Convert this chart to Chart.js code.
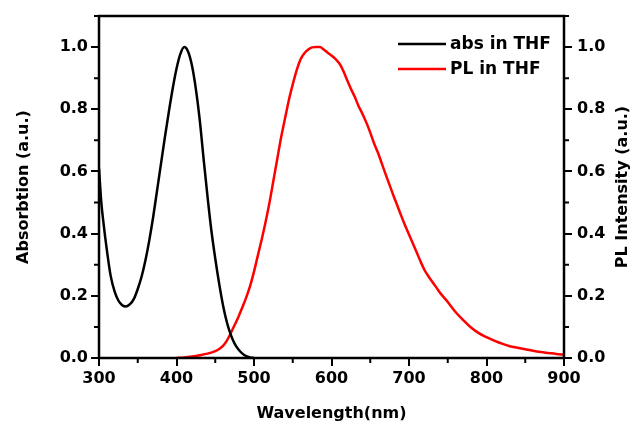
<!DOCTYPE html>
<html>
<head>
<meta charset="utf-8">
<script src="https://cdn.jsdelivr.net/npm/chart.js@4"></script>
<style>
  html, body { margin: 0; padding: 0; background: #fff; }
  #wrap { width: 636px; height: 426px; }
</style>
</head>
<body>
<div id="wrap"><canvas id="c" width="636" height="426"></canvas></div>
<script>
// absorption spectrum (black)
const absWavelength = [300, 303, 306, 310, 315, 320, 325, 330, 335, 340, 345, 350, 355, 360, 365, 370, 375, 380, 385, 390, 395, 400, 405, 410, 415, 420, 425, 430, 435, 440, 445, 450, 455, 460, 465, 470, 475, 480, 485, 490, 495, 500];
const absValues     = [0.61, 0.50, 0.43, 0.35, 0.265, 0.215, 0.185, 0.17, 0.166, 0.173, 0.19, 0.222, 0.262, 0.315, 0.38, 0.455, 0.54, 0.625, 0.71, 0.79, 0.865, 0.93, 0.978, 1.0, 0.985, 0.94, 0.865, 0.765, 0.64, 0.52, 0.41, 0.32, 0.24, 0.17, 0.115, 0.075, 0.046, 0.027, 0.014, 0.006, 0.002, 0.0];

// PL spectrum (red)
const plWavelength = [400, 410, 420, 430, 440, 450, 455, 460, 465, 470, 475, 480, 485, 490, 495, 500, 505, 510, 515, 520, 525, 530, 535, 540, 545, 550, 555, 560, 565, 570, 575, 580, 585, 590, 595, 600, 605, 610, 615, 620, 625, 630, 635, 640, 645, 650, 655, 660, 665, 670, 675, 680, 685, 690, 695, 700, 705, 710, 715, 720, 725, 730, 735, 740, 745, 750, 760, 770, 780, 790, 800, 810, 820, 830, 840, 850, 860, 870, 880, 890, 900];
const plValues     = [0.0, 0.002, 0.005, 0.009, 0.014, 0.022, 0.029, 0.039, 0.056, 0.08, 0.106, 0.133, 0.163, 0.195, 0.232, 0.278, 0.33, 0.382, 0.438, 0.5, 0.57, 0.64, 0.71, 0.77, 0.83, 0.88, 0.925, 0.96, 0.98, 0.992, 0.999, 1.0, 1.0, 0.992, 0.982, 0.973, 0.962, 0.948, 0.925, 0.895, 0.866, 0.84, 0.81, 0.785, 0.757, 0.725, 0.69, 0.66, 0.625, 0.59, 0.556, 0.522, 0.49, 0.457, 0.426, 0.397, 0.368, 0.339, 0.31, 0.283, 0.263, 0.245, 0.228, 0.21, 0.195, 0.18, 0.148, 0.122, 0.098, 0.08, 0.067, 0.056, 0.046, 0.038, 0.033, 0.028, 0.023, 0.019, 0.016, 0.013, 0.011];

const seriesNames = ["abs in THF", "PL in THF"];
const seriesColors = ["#000000", "#ff0000"];

const FONT = "'DejaVu Sans', sans-serif";

function toPoints(xs, ys) {
  return xs.map((x, i) => ({ x: x, y: ys[i] }));
}

// frame, minor ticks, legend, right title
const decor = {
  id: "decor",
  afterDraw(chart) {
    const ctx = chart.ctx;
    const a = chart.chartArea;
    const xs = chart.scales.x, yl = chart.scales.y, yr = chart.scales.y2;
    ctx.save();
    ctx.strokeStyle = "#000";
    ctx.lineWidth = 2.5;
    ctx.strokeRect(a.left, a.top, a.right - a.left, a.bottom - a.top);

    // minor ticks
    ctx.lineWidth = 2;
    ctx.beginPath();
    for (let v = 350; v < 900; v += 100) {
      const px = xs.getPixelForValue(v);
      ctx.moveTo(px, a.bottom);
      ctx.lineTo(px, a.bottom + 5);
    }
    for (let v = 0.1; v < 1.1; v += 0.2) {
      const py = yl.getPixelForValue(v);
      ctx.moveTo(a.left, py);
      ctx.lineTo(a.left - 5, py);
      const py2 = yr.getPixelForValue(v);
      ctx.moveTo(a.right, py2);
      ctx.lineTo(a.right + 5, py2);
    }
    ctx.stroke();

    // legend
    ctx.font = "bold 17px " + FONT;
    ctx.textBaseline = "middle";
    ctx.textAlign = "left";
    seriesNames.forEach((name, i) => {
      const y = a.top + 28 + i * 25;
      ctx.strokeStyle = seriesColors[i];
      ctx.lineWidth = 2.5;
      ctx.beginPath();
      ctx.moveTo(a.right - 166, y);
      ctx.lineTo(a.right - 118, y);
      ctx.stroke();
      ctx.fillStyle = "#000";
      ctx.fillText(name, a.right - 114, y + 1);
    });

    // right axis title, reading bottom to top
    ctx.font = "bold 16px " + FONT;
    ctx.textAlign = "center";
    ctx.translate(623, (a.top + a.bottom) / 2);
    ctx.rotate(-Math.PI / 2);
    ctx.fillText("PL Intensity (a.u.)", 0, 0);
    ctx.restore();
  }
};

const tickFont = { family: FONT, size: 16, weight: "bold" };
const yTicks = {
  color: "#000",
  font: tickFont,
  stepSize: 0.2,
  includeBounds: false,
  callback: v => v.toFixed(1)
};
const yGrid = { drawOnChartArea: false, drawTicks: true, tickLength: 8, lineWidth: 2, color: "#000" };

new Chart(document.getElementById("c"), {
  type: "line",
  data: {
    datasets: [
      {
        label: seriesNames[0],
        data: toPoints(absWavelength, absValues),
        borderColor: seriesColors[0],
        borderWidth: 2.5,
        pointRadius: 0,
        cubicInterpolationMode: "monotone",
        yAxisID: "y"
      },
      {
        label: seriesNames[1],
        data: toPoints(plWavelength, plValues),
        borderColor: seriesColors[1],
        borderWidth: 2.5,
        pointRadius: 0,
        cubicInterpolationMode: "monotone",
        yAxisID: "y2"
      }
    ]
  },
  options: {
    responsive: false,
    animation: false,
    layout: { padding: { top: 16, left: 0, right: 0, bottom: 0 } },
    plugins: { legend: { display: false }, tooltip: { enabled: false } },
    scales: {
      x: {
        type: "linear",
        min: 300,
        max: 900,
        border: { display: false },
        grid: { drawOnChartArea: false, drawTicks: true, tickLength: 8, lineWidth: 2, color: "#000" },
        ticks: { color: "#000", font: tickFont, stepSize: 100, padding: 3, maxRotation: 0 },
        title: { display: true, text: "Wavelength(nm)", color: "#000", font: { family: FONT, size: 16, weight: "bold" }, padding: { top: 0, bottom: 3 } },
        afterFit(s) { s.height = 68; }
      },
      y: {
        position: "left",
        min: 0,
        max: 1.1,
        border: { display: false },
        grid: yGrid,
        ticks: Object.assign({ padding: 3 }, yTicks),
        title: { display: true, text: "Absorbtion (a.u.)", color: "#000", font: { family: FONT, size: 16, weight: "bold" }, padding: { top: 14, bottom: 0 } },
        afterFit(s) { s.width = 99; }
      },
      y2: {
        position: "right",
        min: 0,
        max: 1.1,
        border: { display: false },
        grid: yGrid,
        ticks: Object.assign({ padding: 5 }, yTicks),
        afterFit(s) { s.width = 72; }
      }
    }
  },
  plugins: [decor]
});
</script>
</body>
</html>
